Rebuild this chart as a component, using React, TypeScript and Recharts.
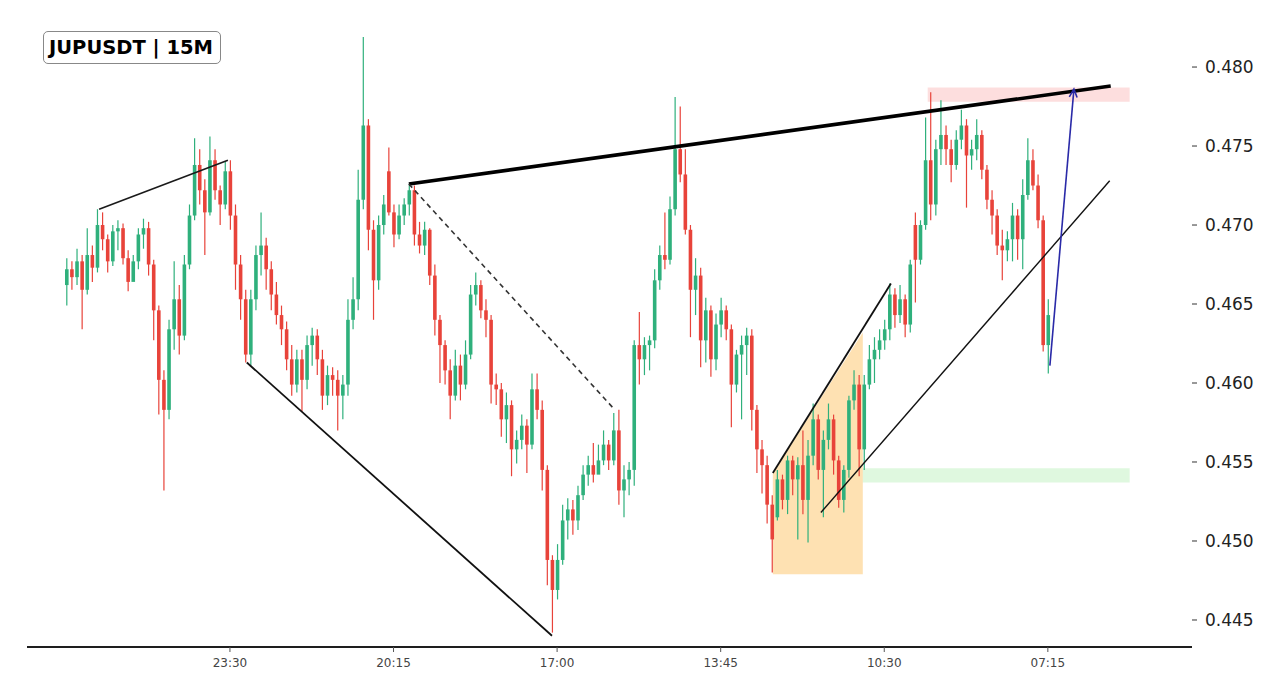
import React from 'react';
import { ComposedChart, Bar, XAxis, YAxis, ReferenceLine, ReferenceArea } from 'recharts';

// ---- candle values (15M candles, left to right) ----
const openP = [
  0.4662,0.4672,0.4667,0.4677,0.4659,0.4681,0.4673,0.4700,0.4691,0.4677,
  0.4696,0.4698,0.4679,0.4664,0.4677,0.4694,0.4698,0.4675,0.4646,0.4602,
  0.4583,0.4634,0.4653,0.4630,0.4675,0.4706,0.4738,0.4722,0.4708,0.4741,
  0.4722,0.4713,0.4734,0.4706,0.4675,0.4653,0.4618,0.4653,0.4681,0.4687,
  0.4672,0.4656,0.4643,0.4634,0.4615,0.4599,0.4615,0.4602,0.4624,0.4630,
  0.4615,0.4592,0.4605,0.4602,0.4592,0.4599,0.4640,0.4653,0.4716,0.4763,
  0.4697,0.4665,0.4700,0.4734,0.4708,0.4694,0.4706,0.4713,0.4722,0.4694,
  0.4687,0.4697,0.4668,0.4640,0.4624,0.4608,0.4592,0.4611,0.4599,0.4618,
  0.4656,0.4662,0.4646,0.4640,0.4599,0.4596,0.4577,0.4586,0.4558,0.4564,
  0.4573,0.4561,0.4596,0.4583,0.4545,0.4488,0.4469,0.4488,0.4513,0.4520,
  0.4513,0.4529,0.4542,0.4548,0.4542,0.4551,0.4561,0.4551,0.4570,0.4532,
  0.4539,0.4545,0.4624,0.4615,0.4624,0.4627,0.4665,0.4681,0.4678,0.4710,
  0.4748,0.4732,0.4697,0.4659,0.4668,0.4627,0.4646,0.4615,0.4637,0.4646,
  0.4634,0.4599,0.4618,0.4624,0.4630,0.4583,0.4558,0.4548,0.4523,0.4515,
  0.4539,0.4526,0.4551,0.4539,0.4548,0.4526,0.4554,0.4577,0.4545,0.4564,
  0.4577,0.4551,0.4526,0.4545,0.4589,0.4599,0.4558,0.4599,0.4615,0.4621,
  0.4627,0.4634,0.4656,0.4643,0.4653,0.4637,0.4700,0.4678,0.4700,0.4741,
  0.4713,0.4748,0.4757,0.4748,0.4738,0.4754,0.4763,0.4744,0.4748,0.4757,
  0.4735,0.4716,0.4706,0.4687,0.4684,0.4691,0.4706,0.4691,0.4719,0.4741,
  0.4725,0.4703,0.4624,
];
const closeP = [
  0.4672,0.4667,0.4677,0.4659,0.4681,0.4673,0.4700,0.4691,0.4677,0.4696,
  0.4698,0.4679,0.4664,0.4677,0.4694,0.4698,0.4675,0.4646,0.4602,0.4583,
  0.4634,0.4653,0.4630,0.4675,0.4706,0.4738,0.4722,0.4708,0.4741,0.4722,
  0.4713,0.4734,0.4706,0.4675,0.4653,0.4618,0.4653,0.4681,0.4687,0.4672,
  0.4656,0.4643,0.4634,0.4615,0.4599,0.4615,0.4602,0.4624,0.4630,0.4615,
  0.4592,0.4605,0.4602,0.4592,0.4599,0.4640,0.4653,0.4716,0.4763,0.4697,
  0.4665,0.4700,0.4713,0.4708,0.4694,0.4706,0.4713,0.4722,0.4694,0.4687,
  0.4697,0.4668,0.4640,0.4624,0.4608,0.4592,0.4611,0.4599,0.4618,0.4656,
  0.4662,0.4646,0.4640,0.4599,0.4596,0.4577,0.4586,0.4558,0.4564,0.4573,
  0.4561,0.4596,0.4583,0.4545,0.4488,0.4469,0.4488,0.4513,0.4520,0.4513,
  0.4529,0.4542,0.4548,0.4542,0.4551,0.4561,0.4551,0.4570,0.4532,0.4539,
  0.4545,0.4624,0.4615,0.4624,0.4627,0.4665,0.4681,0.4678,0.4710,0.4748,
  0.4732,0.4697,0.4659,0.4668,0.4627,0.4646,0.4615,0.4637,0.4646,0.4634,
  0.4599,0.4618,0.4624,0.4630,0.4583,0.4558,0.4548,0.4523,0.4501,0.4539,
  0.4526,0.4551,0.4539,0.4548,0.4526,0.4554,0.4577,0.4545,0.4564,0.4577,
  0.4551,0.4526,0.4545,0.4589,0.4599,0.4558,0.4599,0.4615,0.4621,0.4627,
  0.4634,0.4656,0.4643,0.4653,0.4637,0.4675,0.4678,0.4700,0.4741,0.4713,
  0.4748,0.4757,0.4748,0.4738,0.4754,0.4763,0.4744,0.4748,0.4757,0.4735,
  0.4716,0.4706,0.4687,0.4684,0.4691,0.4706,0.4691,0.4719,0.4741,0.4725,
  0.4703,0.4624,0.4643,
];
const highP = [
  0.4679,0.4677,0.4685,0.4681,0.4698,0.4687,0.4710,0.4708,0.4694,0.4700,
  0.4703,0.4701,0.4684,0.4681,0.4698,0.4704,0.4702,0.4678,0.4649,0.4608,
  0.4640,0.4677,0.4662,0.4681,0.4713,0.4755,0.4748,0.4729,0.4756,0.4748,
  0.4725,0.4740,0.4741,0.4713,0.4681,0.4659,0.4659,0.4687,0.4708,0.4692,
  0.4677,0.4664,0.4649,0.4639,0.4624,0.4621,0.4621,0.4630,0.4635,0.4634,
  0.4621,0.4611,0.4610,0.4608,0.4605,0.4653,0.4667,0.4735,0.4819,0.4767,
  0.4703,0.4706,0.4719,0.4749,0.4713,0.4713,0.4717,0.4726,0.4725,0.4702,
  0.4702,0.4698,0.4675,0.4643,0.4627,0.4615,0.4621,0.4618,0.4627,0.4662,
  0.4670,0.4665,0.4653,0.4643,0.4606,0.4600,0.4594,0.4589,0.4570,0.4580,
  0.4577,0.4606,0.4606,0.4589,0.4548,0.4491,0.4498,0.4523,0.4527,0.4526,
  0.4535,0.4548,0.4554,0.4562,0.4561,0.4570,0.4564,0.4581,0.4583,0.4548,
  0.4550,0.4627,0.4645,0.4629,0.4630,0.4672,0.4687,0.4708,0.4718,0.4781,
  0.4775,0.4748,0.4700,0.4679,0.4673,0.4654,0.4649,0.4644,0.4654,0.4649,
  0.4637,0.4621,0.4630,0.4635,0.4634,0.4586,0.4564,0.4554,0.4529,0.4545,
  0.4542,0.4554,0.4554,0.4553,0.4570,0.4564,0.4587,0.4580,0.4570,0.4587,
  0.4580,0.4554,0.4548,0.4592,0.4608,0.4605,0.4605,0.4624,0.4629,0.4634,
  0.4640,0.4663,0.4660,0.4662,0.4656,0.4678,0.4708,0.4703,0.4768,0.4784,
  0.4754,0.4779,0.4763,0.4754,0.4760,0.4773,0.4767,0.4754,0.4767,0.4760,
  0.4738,0.4722,0.4710,0.4697,0.4696,0.4714,0.4710,0.4729,0.4755,0.4748,
  0.4732,0.4706,0.4653,
];
const lowP = [
  0.4649,0.4659,0.4662,0.4634,0.4656,0.4664,0.4670,0.4684,0.4670,0.4674,
  0.4684,0.4675,0.4658,0.4670,0.4672,0.4685,0.4668,0.4627,0.4580,0.4532,
  0.4577,0.4621,0.4618,0.4627,0.4672,0.4703,0.4713,0.4681,0.4706,0.4716,
  0.4700,0.4710,0.4697,0.4659,0.4640,0.4613,0.4611,0.4646,0.4668,0.4659,
  0.4646,0.4637,0.4624,0.4608,0.4592,0.4594,0.4582,0.4596,0.4611,0.4605,
  0.4583,0.4586,0.4592,0.4570,0.4577,0.4592,0.4634,0.4646,0.4710,0.4684,
  0.4640,0.4659,0.4694,0.4706,0.4686,0.4691,0.4700,0.4706,0.4687,0.4682,
  0.4681,0.4662,0.4630,0.4600,0.4599,0.4577,0.4589,0.4589,0.4596,0.4615,
  0.4649,0.4641,0.4629,0.4587,0.4586,0.4566,0.4562,0.4541,0.4549,0.4558,
  0.4543,0.4558,0.4577,0.4532,0.4472,0.4442,0.4463,0.4485,0.4501,0.4504,
  0.4507,0.4526,0.4535,0.4537,0.4545,0.4548,0.4545,0.4548,0.4523,0.4515,
  0.4529,0.4535,0.4599,0.4605,0.4608,0.4622,0.4659,0.4672,0.4675,0.4706,
  0.4727,0.4694,0.4629,0.4643,0.4610,0.4613,0.4604,0.4608,0.4629,0.4627,
  0.4572,0.4594,0.4577,0.4605,0.4570,0.4543,0.4530,0.4511,0.4480,0.4513,
  0.4520,0.4517,0.4529,0.4501,0.4517,0.4499,0.4548,0.4539,0.4515,0.4558,
  0.4542,0.4521,0.4518,0.4540,0.4583,0.4541,0.4545,0.4596,0.4600,0.4615,
  0.4621,0.4627,0.4635,0.4638,0.4629,0.4632,0.4651,0.4675,0.4697,0.4703,
  0.4706,0.4738,0.4738,0.4727,0.4735,0.4748,0.4711,0.4735,0.4741,0.4729,
  0.4710,0.4694,0.4681,0.4665,0.4677,0.4677,0.4678,0.4672,0.4716,0.4722,
  0.4698,0.4620,0.4606,
];

// ---- axis ticks ----
const timeTicks = [32, 64, 96, 128, 160, 192];
const timeLabels = ['23:30', '20:15', '17:00', '13:45', '10:30', '07:15'];
const priceTicks = [0.445, 0.45, 0.455, 0.46, 0.465, 0.47, 0.475, 0.48];

// ---- drawn annotations (candle index, price) ----
const leftRiseLine = [{ x: 6.4, y: 0.471 }, { x: 31.6, y: 0.4741 }];
const fallLine = [{ x: 35.3, y: 0.4613 }, { x: 95.0, y: 0.4440 }];
const resistanceLine = [{ x: 67.0, y: 0.4726 }, { x: 204.3, y: 0.4788 }];
const dashedLine = [{ x: 67.0, y: 0.4726 }, { x: 107.3, y: 0.4583 }];
const wedgeUpper = [{ x: 138.2, y: 0.4543 }, { x: 161.3, y: 0.4663 }];
const supportLine = [{ x: 147.6, y: 0.4518 }, { x: 204.1, y: 0.4728 }];
const targetArrow = [{ x: 192.4, y: 0.4611 }, { x: 197.1, y: 0.4786 }];
const wedgeZone = { x1: 138.2, x2: 155.8, bottom: 0.4479, topLeft: 0.4543, topRight: 0.4632 };
const supplyZone = { x1: 168.5, x2: 208.0, y1: 0.4778, y2: 0.4787 };
const demandZone = { x1: 155.8, x2: 208.0, y1: 0.4537, y2: 0.4546 };

const data = openP.map((o, i) => ({
  k: i,
  open: o,
  high: highP[i],
  low: lowP[i],
  close: closeP[i],
  range: [lowP[i], highP[i]],
}));

const GREEN = '#2fb07c';
const RED = '#e8433a';

const Candle = (props: any) => {
  const { x, y, width, height, payload } = props;
  if (x == null || y == null || !payload) return null;
  const top = Math.min(y, y + height);
  const h = Math.abs(height);
  const { open, close, high, low } = payload;
  const span = high - low || 1e-9;
  const py = (v: number) => top + ((high - v) / span) * h;
  const up = close >= open;
  const color = up ? GREEN : RED;
  const cx = x + width / 2;
  const bTop = py(Math.max(open, close));
  const bBot = py(Math.min(open, close));
  return (
    <g>
      <line x1={cx} x2={cx} y1={top} y2={top + h} stroke={color} strokeWidth={1.2} />
      <rect x={cx - 1.8} y={bTop} width={3.6} height={Math.max(1, bBot - bTop)} fill={color} />
    </g>
  );
};

const ArrowShape = (p: any) => {
  const { x1, y1, x2, y2 } = p;
  if ([x1, y1, x2, y2].some((v) => v == null || isNaN(v))) return null;
  const ang = Math.atan2(y2 - y1, x2 - x1);
  const len = 9;
  const a1 = ang + Math.PI - 0.45;
  const a2 = ang + Math.PI + 0.45;
  return (
    <g>
      <line x1={x1} y1={y1} x2={x2} y2={y2} stroke="#2a2aa8" strokeWidth={1.6} />
      <polyline
        points={`${x2 + len * Math.cos(a1)},${y2 + len * Math.sin(a1)} ${x2},${y2} ${x2 + len * Math.cos(a2)},${y2 + len * Math.sin(a2)}`}
        fill="none"
        stroke="#2a2aa8"
        strokeWidth={1.6}
      />
    </g>
  );
};

const WedgeShape = (p: any) => {
  const { x, y, width, height } = p;
  if (x == null || y == null) return null;
  const frac = (wedgeZone.topRight - wedgeZone.topLeft) / (wedgeZone.topRight - wedgeZone.bottom);
  const pts = `${x},${y + frac * height} ${x + width},${y} ${x + width},${y + height} ${x},${y + height}`;
  return <polygon points={pts} fill="rgba(253,165,20,0.33)" stroke="none" />;
};

export default function App() {
  return (
    <div style={{ position: 'relative', width: 1264, height: 681, fontFamily: 'DejaVu Sans', background: '#fff' }}>
      <ComposedChart
        width={1264}
        height={681}
        data={data}
        margin={{ top: 2, right: 0, bottom: 0, left: 19 }}
      >
        <XAxis
          dataKey="k"
          type="number"
          domain={[-7.7, 220.2]}
          allowDataOverflow
          ticks={timeTicks}
          tickFormatter={(v: number) => timeLabels[timeTicks.indexOf(v)] ?? ''}
          height={42}
          axisLine={{ stroke: '#1e1e1e', strokeWidth: 2 }}
          tickLine={{ stroke: '#555' }}
          tickSize={5}
          tickMargin={6}
          tick={{ fontSize: 12, fill: '#444', fontFamily: 'DejaVu Sans' }}
        />
        <YAxis
          orientation="right"
          type="number"
          domain={[0.44329, 0.48361]}
          allowDataOverflow
          ticks={priceTicks}
          tickFormatter={(v: number) => v.toFixed(3)}
          width={80}
          axisLine={false}
          tickLine={{ stroke: '#333' }}
          tickSize={5}
          tickMargin={8}
          tick={{ fontSize: 17, fill: '#222', fontFamily: 'DejaVu Sans' }}
        />
        <ReferenceArea
          x1={supplyZone.x1}
          x2={supplyZone.x2}
          y1={supplyZone.y1}
          y2={supplyZone.y2}
          fill="rgba(245,60,60,0.17)"
          fillOpacity={1}
          stroke="none"
        />
        <ReferenceArea
          x1={demandZone.x1}
          x2={demandZone.x2}
          y1={demandZone.y1}
          y2={demandZone.y2}
          fill="rgba(40,210,40,0.15)"
          fillOpacity={1}
          stroke="none"
        />
        <ReferenceArea
          x1={wedgeZone.x1}
          x2={wedgeZone.x2}
          y1={wedgeZone.bottom}
          y2={wedgeZone.topRight}
          shape={WedgeShape}
        />
        <Bar dataKey="range" barSize={4} shape={Candle} isAnimationActive={false} />
        <ReferenceLine segment={leftRiseLine} stroke="#1a1a1a" strokeWidth={1.6} />
        <ReferenceLine segment={fallLine} stroke="#111" strokeWidth={1.8} />
        <ReferenceLine segment={resistanceLine} stroke="#000" strokeWidth={3.6} />
        <ReferenceLine segment={dashedLine} stroke="#333" strokeWidth={1.6} strokeDasharray="5 4" />
        <ReferenceLine segment={wedgeUpper} stroke="#111" strokeWidth={1.8} />
        <ReferenceLine segment={supportLine} stroke="#111" strokeWidth={1.4} />
        <ReferenceLine segment={targetArrow} shape={ArrowShape} />
      </ComposedChart>
      <div
        style={{
          position: 'absolute',
          left: 35,
          top: 23,
          width: 178,
          height: 33,
          boxSizing: 'border-box',
          border: '1px solid #888',
          borderRadius: 5,
          background: '#fff',
          display: 'flex',
          alignItems: 'center',
          paddingLeft: 5,
          fontFamily: 'DejaVu Sans',
          fontWeight: 'bold',
          fontSize: 19.5,
          color: '#000',
          whiteSpace: 'nowrap',
        }}
      >
        JUPUSDT | 15M
      </div>
    </div>
  );
}
